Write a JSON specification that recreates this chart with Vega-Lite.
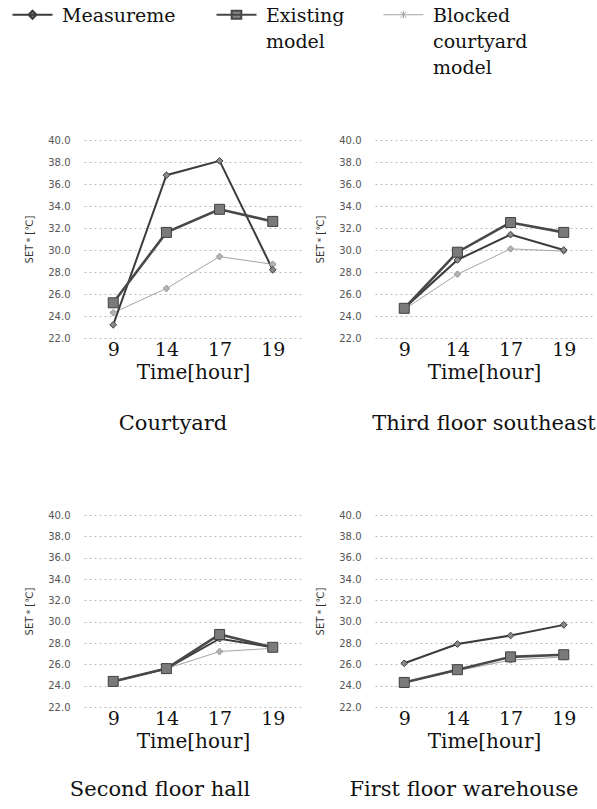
{
  "$schema": "https://vega.github.io/schema/vega-lite/v6.json",
  "background": "white",
  "padding": {"left": 23, "top": 5, "right": 0, "bottom": 5},
  "config": {
    "view": {"stroke": null},
    "font": "DejaVu Serif",
    "title": {"font": "DejaVu Serif", "fontSize": 21, "fontWeight": "normal", "color": "#111111", "anchor": "middle", "frame": "group"},
    "axisX": {"labelAngle": 0, "labelFont": "DejaVu Serif", "labelFontSize": 19, "labelColor": "#111111",
      "titleFont": "DejaVu Serif", "titleFontSize": 20, "titleFontWeight": "normal", "titleColor": "#111111",
      "domain": false, "ticks": false, "grid": false, "labelPadding": 2, "titlePadding": 3},
    "axisY": {"labelFont": "DejaVu Sans", "labelFontSize": 10, "labelColor": "#555555", "labelPadding": 14,
      "titleFont": "DejaVu Sans", "titleFontSize": 10, "titleFontWeight": "normal", "titleColor": "#333333", "titlePadding": 13,
      "domain": false, "ticks": false, "grid": true, "gridColor": "#bbbbbb", "gridDash": [2, 3], "gridWidth": 1}
  },
  "data": {"values": [
    {"panel": "Courtyard", "series": "Blocked courtyard model", "hour": 9, "set": 24.3},
    {"panel": "Courtyard", "series": "Blocked courtyard model", "hour": 14, "set": 26.5},
    {"panel": "Courtyard", "series": "Blocked courtyard model", "hour": 17, "set": 29.4},
    {"panel": "Courtyard", "series": "Blocked courtyard model", "hour": 19, "set": 28.7},
    {"panel": "Courtyard", "series": "Measureme", "hour": 9, "set": 23.2},
    {"panel": "Courtyard", "series": "Measureme", "hour": 14, "set": 36.8},
    {"panel": "Courtyard", "series": "Measureme", "hour": 17, "set": 38.1},
    {"panel": "Courtyard", "series": "Measureme", "hour": 19, "set": 28.2},
    {"panel": "Courtyard", "series": "Existing model", "hour": 9, "set": 25.2},
    {"panel": "Courtyard", "series": "Existing model", "hour": 14, "set": 31.6},
    {"panel": "Courtyard", "series": "Existing model", "hour": 17, "set": 33.7},
    {"panel": "Courtyard", "series": "Existing model", "hour": 19, "set": 32.6},
    {"panel": "Third floor southeast", "series": "Blocked courtyard model", "hour": 9, "set": 24.6},
    {"panel": "Third floor southeast", "series": "Blocked courtyard model", "hour": 14, "set": 27.8},
    {"panel": "Third floor southeast", "series": "Blocked courtyard model", "hour": 17, "set": 30.1},
    {"panel": "Third floor southeast", "series": "Blocked courtyard model", "hour": 19, "set": 29.9},
    {"panel": "Third floor southeast", "series": "Measureme", "hour": 9, "set": 24.7},
    {"panel": "Third floor southeast", "series": "Measureme", "hour": 14, "set": 29.1},
    {"panel": "Third floor southeast", "series": "Measureme", "hour": 17, "set": 31.4},
    {"panel": "Third floor southeast", "series": "Measureme", "hour": 19, "set": 30.0},
    {"panel": "Third floor southeast", "series": "Existing model", "hour": 9, "set": 24.7},
    {"panel": "Third floor southeast", "series": "Existing model", "hour": 14, "set": 29.8},
    {"panel": "Third floor southeast", "series": "Existing model", "hour": 17, "set": 32.5},
    {"panel": "Third floor southeast", "series": "Existing model", "hour": 19, "set": 31.6},
    {"panel": "Second floor hall", "series": "Blocked courtyard model", "hour": 9, "set": 24.4},
    {"panel": "Second floor hall", "series": "Blocked courtyard model", "hour": 14, "set": 25.6},
    {"panel": "Second floor hall", "series": "Blocked courtyard model", "hour": 17, "set": 27.2},
    {"panel": "Second floor hall", "series": "Blocked courtyard model", "hour": 19, "set": 27.5},
    {"panel": "Second floor hall", "series": "Measureme", "hour": 9, "set": 24.4},
    {"panel": "Second floor hall", "series": "Measureme", "hour": 14, "set": 25.6},
    {"panel": "Second floor hall", "series": "Measureme", "hour": 17, "set": 28.4},
    {"panel": "Second floor hall", "series": "Measureme", "hour": 19, "set": 27.6},
    {"panel": "Second floor hall", "series": "Existing model", "hour": 9, "set": 24.4},
    {"panel": "Second floor hall", "series": "Existing model", "hour": 14, "set": 25.6},
    {"panel": "Second floor hall", "series": "Existing model", "hour": 17, "set": 28.8},
    {"panel": "Second floor hall", "series": "Existing model", "hour": 19, "set": 27.6},
    {"panel": "First floor warehouse", "series": "Blocked courtyard model", "hour": 9, "set": 24.3},
    {"panel": "First floor warehouse", "series": "Blocked courtyard model", "hour": 14, "set": 25.4},
    {"panel": "First floor warehouse", "series": "Blocked courtyard model", "hour": 17, "set": 26.4},
    {"panel": "First floor warehouse", "series": "Blocked courtyard model", "hour": 19, "set": 26.7},
    {"panel": "First floor warehouse", "series": "Measureme", "hour": 9, "set": 26.1},
    {"panel": "First floor warehouse", "series": "Measureme", "hour": 14, "set": 27.9},
    {"panel": "First floor warehouse", "series": "Measureme", "hour": 17, "set": 28.7},
    {"panel": "First floor warehouse", "series": "Measureme", "hour": 19, "set": 29.7},
    {"panel": "First floor warehouse", "series": "Existing model", "hour": 9, "set": 24.3},
    {"panel": "First floor warehouse", "series": "Existing model", "hour": 14, "set": 25.5},
    {"panel": "First floor warehouse", "series": "Existing model", "hour": 17, "set": 26.7},
    {"panel": "First floor warehouse", "series": "Existing model", "hour": 19, "set": 26.9}
  ]},
  "resolve": {"scale": {"x": "independent", "y": "independent"}},
  "spacing": 76,
  "vconcat": [
    {
      "hconcat": [
        {
          "transform": [{"filter": "datum.panel == 'Courtyard'"}],
          "width": 218, "height": 198,
          "title": {"text": "Courtyard", "orient": "bottom", "offset": 31, "dx": -20},
          "encoding": {
            "x": {"field": "hour", "type": "ordinal", "sort": [9, 14, 17, 19], "scale": {"type": "point", "padding": 0.55}, "axis": {"title": "Time[hour]"}},
            "y": {"field": "set", "type": "quantitative", "scale": {"domain": [22, 40], "nice": false, "zero": false}, "axis": {"title": "SET＊[℃]", "values": [22, 24, 26, 28, 30, 32, 34, 36, 38, 40], "format": ".1f"}}
          },
          "layer": [
            {"mark": {"type": "line"},
             "encoding": {
               "color": {"field": "series", "type": "nominal",
                 "scale": {"domain": ["Measureme", "Existing model", "Blocked courtyard model"], "range": ["#3c3c3c", "#484848", "#a5a5a5"]},
                 "legend": {"orient": "none", "legendX": -61, "legendY": -135, "title": null, "columns": 3, "columnPadding": 36,
                   "symbolType": "M-1,0H1", "symbolSize": 1600, "symbolStrokeWidth": 2, "labelOffset": 20,
                   "labelFont": "DejaVu Serif", "labelFontSize": 19, "labelColor": "#111111", "labelBaseline": "top", "labelLimit": 300,
                   "labelExpr": "datum.label == 'Existing model' ? ['Existing', 'model', ' '] : datum.label == 'Blocked courtyard model' ? ['Blocked', 'courtyard', 'model'] : [datum.label, ' ', ' ']",
                   "encoding": {
                     "symbols": {
                       "shape": {"value": {"expr": "datum.value == 'Measureme' ? 'M-1,0H1M0,-0.2L0.2,0L0,0.2L-0.2,0Z' : datum.value == 'Existing model' ? 'M-1,0H1M-0.24,-0.2H0.24V0.2H-0.24Z' : 'M-1,0H1M-0.15,-0.15L0.15,0.15M-0.15,0.15L0.15,-0.15M0,-0.18V0.18'"}},
                       "fill": {"value": "#888888"},
                       "stroke": {"value": {"expr": "datum.value == 'Blocked courtyard model' ? '#a5a5a5' : '#3c3c3c'"}},
                       "strokeWidth": {"value": {"expr": "datum.value == 'Blocked courtyard model' ? 1 : 2"}}
                     },
                     "labels": {"dy": {"value": -8}, "lineHeight": {"value": 26}}
                   }}},
               "strokeWidth": {"condition": [{"test": "datum.series == 'Blocked courtyard model'", "value": 1}, {"test": "datum.series == 'Existing model'", "value": 2.6}], "value": 2}
             }},
            {"mark": {"type": "point", "filled": true, "opacity": 1, "strokeWidth": 1},
             "encoding": {
               "shape": {"condition": [{"test": "datum.series == 'Blocked courtyard model'", "value": "cross"}, {"test": "datum.series == 'Existing model'", "value": "square"}], "value": "diamond"},
               "size": {"condition": [{"test": "datum.series == 'Blocked courtyard model'", "value": 30}, {"test": "datum.series == 'Existing model'", "value": 100}], "value": 45},
               "fill": {"condition": [{"test": "datum.series == 'Blocked courtyard model'", "value": "#b5b5b5"}, {"test": "datum.series == 'Existing model'", "value": "#7a7a7a"}], "value": "#8a8a8a"},
               "stroke": {"condition": [{"test": "datum.series == 'Blocked courtyard model'", "value": "#a0a0a0"}, {"test": "datum.series == 'Existing model'", "value": "#404040"}], "value": "#3c3c3c"}
             }}
          ]
        },
        {
          "transform": [{"filter": "datum.panel == 'Third floor southeast'"}],
          "width": 218, "height": 198,
          "title": {"text": "Third floor southeast", "orient": "bottom", "offset": 31, "dx": 0},
          "encoding": {
            "x": {"field": "hour", "type": "ordinal", "sort": [9, 14, 17, 19], "scale": {"type": "point", "padding": 0.55}, "axis": {"title": "Time[hour]"}},
            "y": {"field": "set", "type": "quantitative", "scale": {"domain": [22, 40], "nice": false, "zero": false}, "axis": {"title": "SET＊[℃]", "values": [22, 24, 26, 28, 30, 32, 34, 36, 38, 40], "format": ".1f"}}
          },
          "layer": [
            {"mark": {"type": "line"},
             "encoding": {
               "color": {"field": "series", "type": "nominal",
                 "scale": {"domain": ["Measureme", "Existing model", "Blocked courtyard model"], "range": ["#3c3c3c", "#484848", "#a5a5a5"]}, "legend": null},
               "strokeWidth": {"condition": [{"test": "datum.series == 'Blocked courtyard model'", "value": 1}, {"test": "datum.series == 'Existing model'", "value": 2.6}], "value": 2}
             }},
            {"mark": {"type": "point", "filled": true, "opacity": 1, "strokeWidth": 1},
             "encoding": {
               "shape": {"condition": [{"test": "datum.series == 'Blocked courtyard model'", "value": "cross"}, {"test": "datum.series == 'Existing model'", "value": "square"}], "value": "diamond"},
               "size": {"condition": [{"test": "datum.series == 'Blocked courtyard model'", "value": 30}, {"test": "datum.series == 'Existing model'", "value": 100}], "value": 45},
               "fill": {"condition": [{"test": "datum.series == 'Blocked courtyard model'", "value": "#b5b5b5"}, {"test": "datum.series == 'Existing model'", "value": "#7a7a7a"}], "value": "#8a8a8a"},
               "stroke": {"condition": [{"test": "datum.series == 'Blocked courtyard model'", "value": "#a0a0a0"}, {"test": "datum.series == 'Existing model'", "value": "#404040"}], "value": "#3c3c3c"}
             }}
          ]
        }
      ],
      "spacing": 13
    },
    {
      "hconcat": [
        {
          "transform": [{"filter": "datum.panel == 'Second floor hall'"}],
          "width": 218, "height": 192,
          "title": {"text": "Second floor hall", "orient": "bottom", "offset": 28, "dx": -33},
          "encoding": {
            "x": {"field": "hour", "type": "ordinal", "sort": [9, 14, 17, 19], "scale": {"type": "point", "padding": 0.55}, "axis": {"title": "Time[hour]"}},
            "y": {"field": "set", "type": "quantitative", "scale": {"domain": [22, 40], "nice": false, "zero": false}, "axis": {"title": "SET＊[℃]", "values": [22, 24, 26, 28, 30, 32, 34, 36, 38, 40], "format": ".1f"}}
          },
          "layer": [
            {"mark": {"type": "line"},
             "encoding": {
               "color": {"field": "series", "type": "nominal",
                 "scale": {"domain": ["Measureme", "Existing model", "Blocked courtyard model"], "range": ["#3c3c3c", "#484848", "#a5a5a5"]}, "legend": null},
               "strokeWidth": {"condition": [{"test": "datum.series == 'Blocked courtyard model'", "value": 1}, {"test": "datum.series == 'Existing model'", "value": 2.6}], "value": 2}
             }},
            {"mark": {"type": "point", "filled": true, "opacity": 1, "strokeWidth": 1},
             "encoding": {
               "shape": {"condition": [{"test": "datum.series == 'Blocked courtyard model'", "value": "cross"}, {"test": "datum.series == 'Existing model'", "value": "square"}], "value": "diamond"},
               "size": {"condition": [{"test": "datum.series == 'Blocked courtyard model'", "value": 30}, {"test": "datum.series == 'Existing model'", "value": 100}], "value": 45},
               "fill": {"condition": [{"test": "datum.series == 'Blocked courtyard model'", "value": "#b5b5b5"}, {"test": "datum.series == 'Existing model'", "value": "#7a7a7a"}], "value": "#8a8a8a"},
               "stroke": {"condition": [{"test": "datum.series == 'Blocked courtyard model'", "value": "#a0a0a0"}, {"test": "datum.series == 'Existing model'", "value": "#404040"}], "value": "#3c3c3c"}
             }}
          ]
        },
        {
          "transform": [{"filter": "datum.panel == 'First floor warehouse'"}],
          "width": 218, "height": 192,
          "title": {"text": "First floor warehouse", "orient": "bottom", "offset": 28, "dx": -20},
          "encoding": {
            "x": {"field": "hour", "type": "ordinal", "sort": [9, 14, 17, 19], "scale": {"type": "point", "padding": 0.55}, "axis": {"title": "Time[hour]"}},
            "y": {"field": "set", "type": "quantitative", "scale": {"domain": [22, 40], "nice": false, "zero": false}, "axis": {"title": "SET＊[℃]", "values": [22, 24, 26, 28, 30, 32, 34, 36, 38, 40], "format": ".1f"}}
          },
          "layer": [
            {"mark": {"type": "line"},
             "encoding": {
               "color": {"field": "series", "type": "nominal",
                 "scale": {"domain": ["Measureme", "Existing model", "Blocked courtyard model"], "range": ["#3c3c3c", "#484848", "#a5a5a5"]}, "legend": null},
               "strokeWidth": {"condition": [{"test": "datum.series == 'Blocked courtyard model'", "value": 1}, {"test": "datum.series == 'Existing model'", "value": 2.6}], "value": 2}
             }},
            {"mark": {"type": "point", "filled": true, "opacity": 1, "strokeWidth": 1},
             "encoding": {
               "shape": {"condition": [{"test": "datum.series == 'Blocked courtyard model'", "value": "cross"}, {"test": "datum.series == 'Existing model'", "value": "square"}], "value": "diamond"},
               "size": {"condition": [{"test": "datum.series == 'Blocked courtyard model'", "value": 30}, {"test": "datum.series == 'Existing model'", "value": 100}], "value": 45},
               "fill": {"condition": [{"test": "datum.series == 'Blocked courtyard model'", "value": "#b5b5b5"}, {"test": "datum.series == 'Existing model'", "value": "#7a7a7a"}], "value": "#8a8a8a"},
               "stroke": {"condition": [{"test": "datum.series == 'Blocked courtyard model'", "value": "#a0a0a0"}, {"test": "datum.series == 'Existing model'", "value": "#404040"}], "value": "#3c3c3c"}
             }}
          ]
        }
      ],
      "spacing": 13
    }
  ]
}
